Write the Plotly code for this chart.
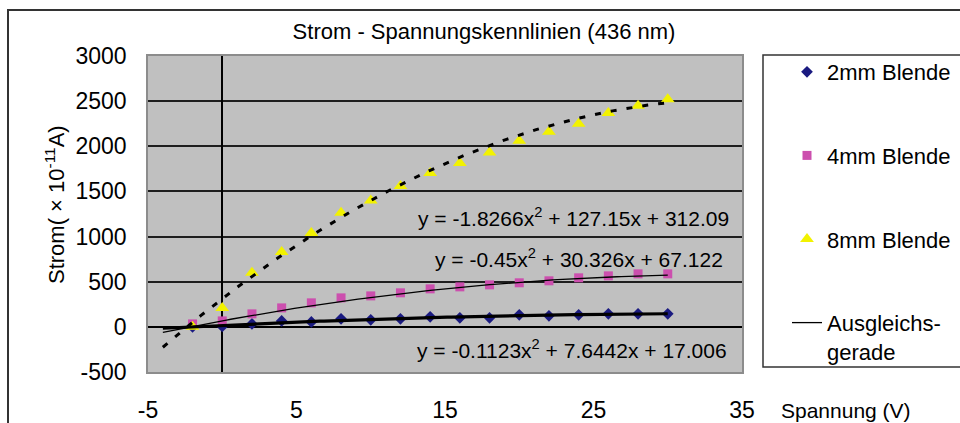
import numpy as np
import plotly.graph_objects as go

# ---- data ----
spannung = [-2, 0, 2, 4, 6, 8, 10, 12, 14, 16, 18, 20, 22, 24, 26, 28, 30]
strom_2mm = [0, 5, 33, 66, 55, 89, 78, 89, 111, 100, 100, 133, 122, 133, 144, 144, 144]
strom_4mm = [33, 66, 144, 210, 266, 321, 343, 377, 421, 443, 465, 488, 510, 543, 565, 587, 587]
strom_8mm = [0, 210, 600, 830, 1040, 1265, 1400, 1560, 1705, 1815, 1930, 2060, 2160, 2250, 2370, 2450, 2520]

series_names = ["2mm Blende", "4mm Blende", "8mm Blende"]
fit_name = "Ausgleichs-<br>gerade"

# trendline coefficients as printed on the chart (a, b, c of y = a x^2 + b x + c)
fit_2mm = [-0.1123, 7.6442, 17.006]
fit_4mm = [-0.45, 30.326, 67.122]
fit_8mm = [-1.8266, 127.15, 312.09]
fit_span = [-4, 30]
eq_labels = [
    "y = -0.1123x<sup>2</sup> + 7.6442x + 17.006",
    "y = -0.45x<sup>2</sup> + 30.326x + 67.122",
    "y = -1.8266x<sup>2</sup> + 127.15x + 312.09",
]

x_tick_vals = [-5, 5, 15, 25, 35]
x_tick_text = ["-5", "5", "15", "25", "35"]
y_tick_vals = [-500, 0, 500, 1000, 1500, 2000, 2500, 3000]
y_tick_text = ["-500", "0", "500", "1000", "1500", "2000", "2500", "3000"]

title_text = "Strom - Spannungskennlinien (436 nm)"
y_title = "Strom( × 10<sup>-11</sup>A)"
x_title = "Spannung (V)"

FONT = "Liberation Sans, Arial, sans-serif"

fig = go.Figure()

# data markers
fig.add_trace(go.Scatter(x=spannung, y=strom_2mm, mode="markers", name=series_names[0],
                         marker=dict(symbol="diamond", size=9, color="#1a1a80"),
                         legendgroup="a", legendrank=1))
fig.add_trace(go.Scatter(x=spannung, y=strom_4mm, mode="markers", name=series_names[1],
                         marker=dict(symbol="square", size=9, color="#cc4fae"),
                         legendgroup="b", legendrank=2))
fig.add_trace(go.Scatter(x=spannung, y=strom_8mm, mode="markers", name=series_names[2],
                         marker=dict(symbol="triangle-up", size=12, color="#f2f200"),
                         legendgroup="c", legendrank=3))

# trendlines (from the printed coefficients)
xf = np.linspace(fit_span[0], fit_span[1], 120)
fig.add_trace(go.Scatter(x=xf, y=np.polyval(fit_2mm, xf), mode="lines", showlegend=False,
                         line=dict(color="black", width=3.2), hoverinfo="skip"))
fig.add_trace(go.Scatter(x=xf, y=np.polyval(fit_4mm, xf), mode="lines", name=fit_name,
                         line=dict(color="black", width=1.3), legendgroup="d", legendrank=4,
                         hoverinfo="skip"))
fig.add_trace(go.Scatter(x=xf, y=np.polyval(fit_8mm, xf), mode="lines", showlegend=False,
                         line=dict(color="black", width=3, dash="6px,10px"), hoverinfo="skip"))

W, H = 960, 423
L, T = 148, 56
R = W - 742
B = H - 372
pw, ph = W - L - R, H - T - B


def px(xp):  # screen x pixel -> paper
    return (xp - L) / pw


def py(yp):  # screen y pixel -> paper
    return (H - B - yp) / ph


annotations = [
    dict(text=eq_labels[2], x=px(731), y=py(217), xanchor="right", yanchor="middle"),
    dict(text=eq_labels[1], x=px(725), y=py(258), xanchor="right", yanchor="middle"),
    dict(text=eq_labels[0], x=px(729), y=py(349), xanchor="right", yanchor="middle"),
]
for a in annotations:
    a.update(xref="paper", yref="paper", showarrow=False, font=dict(size=21, color="black", family=FONT))
annotations.append(dict(text=x_title, x=px(779), y=py(410), xref="paper", yref="paper",
                        xanchor="left", yanchor="middle", showarrow=False,
                        font=dict(size=21, color="black", family=FONT)))
annotations.append(dict(text=y_title, x=px(55), y=py(205), xref="paper", yref="paper",
                        xanchor="center", yanchor="middle", textangle=-90, showarrow=False,
                        font=dict(size=22, color="black", family=FONT)))

shapes = [
    # outer chart frame (continues beyond the picture)
    dict(type="rect", xref="paper", yref="paper", x0=px(8), x1=px(1010), y0=py(480), y1=py(10),
         line=dict(color="#333333", width=2), fillcolor="rgba(0,0,0,0)", layer="below"),
    # legend frame
    dict(type="rect", xref="paper", yref="paper", x0=px(763), x1=px(1010), y0=py(367), y1=py(55),
         line=dict(color="#333333", width=1.5), fillcolor="rgba(0,0,0,0)"),
]

fig.update_layout(
    width=W, height=H,
    margin=dict(l=L, r=R, t=T, b=B, autoexpand=False),
    paper_bgcolor="white", plot_bgcolor="#c0c0c0",
    font=dict(family=FONT, color="black", size=22),
    title=dict(text=title_text, x=484 / W, xanchor="center", y=1 - 31 / H,
               yanchor="middle", font=dict(size=22, family=FONT, color="black")),
    xaxis=dict(range=[-5, 35], tickvals=x_tick_vals, ticktext=x_tick_text, showgrid=False,
               zeroline=True, zerolinecolor="black", zerolinewidth=2,
               showline=True, mirror=True, linecolor="#8c8c8c", linewidth=1.5, automargin=False,
               ticks="", tickfont=dict(size=23), ticklabelstandoff=17),
    yaxis=dict(range=[-500, 3000], tickvals=y_tick_vals, ticktext=y_tick_text,
               showgrid=True, gridcolor="#1e1e1e", gridwidth=2,
               zeroline=True, zerolinecolor="black", zerolinewidth=2, automargin=False,
               showline=True, mirror=True, linecolor="#8c8c8c", linewidth=1.5,
               ticks="", tickfont=dict(size=23), ticklabelstandoff=15),
    # crossing axes (x axis through y = 0, y axis through x = 0) carrying only tick marks
    xaxis2=dict(overlaying="x", anchor="free", position=py(326), range=[-5, 35],
                tickvals=x_tick_vals, showticklabels=False, ticks="inside", ticklen=7,
                tickwidth=1.5, tickcolor="black", showgrid=False, zeroline=False,
                showline=False, automargin=False),
    yaxis2=dict(overlaying="y", anchor="free", position=px(223), range=[-500, 3000],
                tickvals=y_tick_vals, showticklabels=False, ticks="outside", ticklen=7,
                tickwidth=1.5, tickcolor="black", showgrid=False, zeroline=False,
                showline=False, automargin=False),
    legend=dict(x=px(787), y=py(51), xanchor="left", yanchor="top",
                bgcolor="rgba(0,0,0,0)", borderwidth=0, font=dict(size=22),
                tracegroupgap=52, itemwidth=30, valign="top", maxheight=400),
    annotations=annotations, shapes=shapes,
    showlegend=True,
)

# the default page has an 8 px body margin; remove it so the 960x423 figure fills the window
fig.write_html("out.html", config={"displayModeBar": False},
               post_script="document.body.style.margin='0';")
